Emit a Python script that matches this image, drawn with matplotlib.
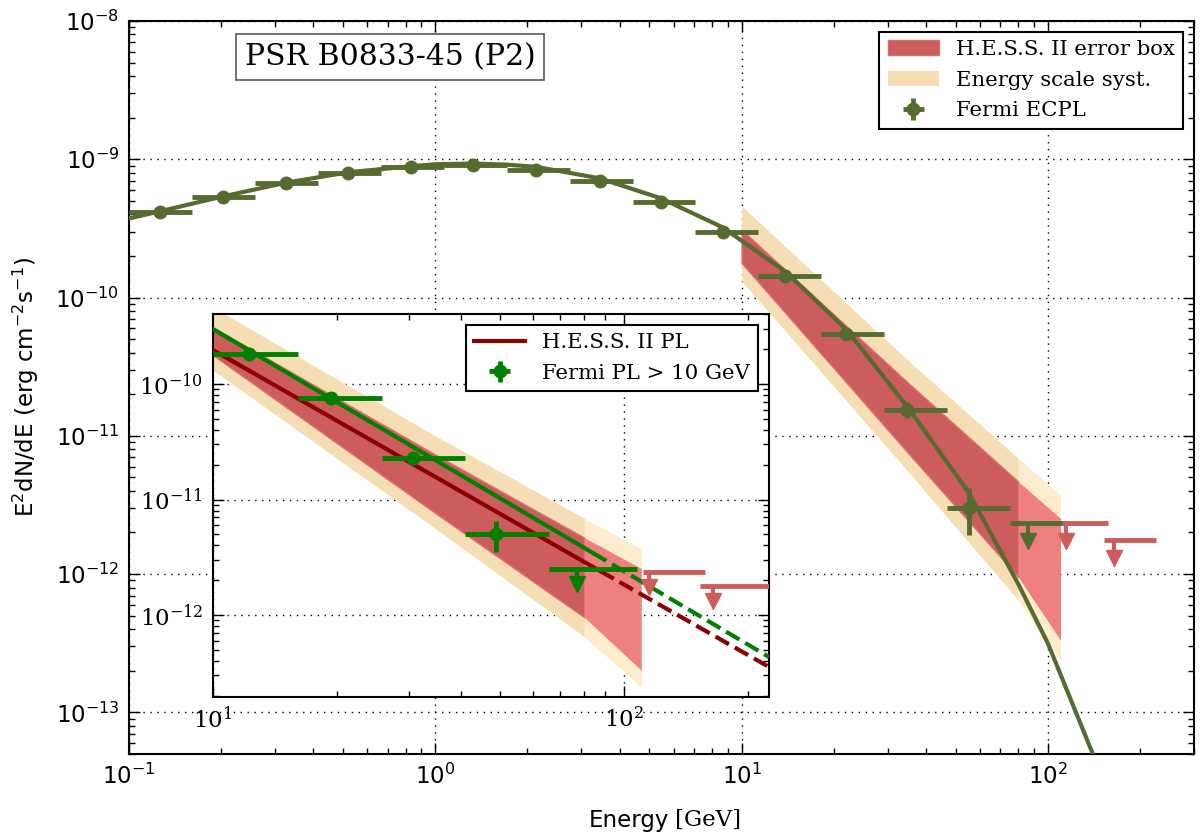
import matplotlib
matplotlib.use("Agg")
import numpy as np
import matplotlib.pyplot as plt
from matplotlib.ticker import LogLocator, NullFormatter

plt.rcParams.update({
    "font.family": "DejaVu Sans",
    "mathtext.default": "regular",
    "axes.unicode_minus": False,
    "axes.linewidth": 1.5,
})

OLIVE = "#556B2F"
GREEN = "#008000"
DARKRED = "#8B0000"
RED = "#CD5C5C"
RED_LIGHT = "#F08080"
TAN = "#F5DEB3"
TAN_LIGHT = "#FFEBCD"
SERIF = "DejaVu Serif"

# ---- Fermi-LAT ECPL points (main panel) ----
fermi_e = [0.126, 0.203, 0.325, 0.520, 0.832, 1.33, 2.14, 3.44, 5.45, 8.67,
           13.9, 22.0, 34.8, 55.1]
fermi_flux = [4.13e-10, 5.31e-10, 6.70e-10, 7.92e-10, 8.75e-10, 9.05e-10,
              8.32e-10, 6.93e-10, 4.88e-10, 2.96e-10, 1.44e-10, 5.48e-11,
              1.54e-11, 3.01e-12]
fermi_edges = [0.100, 0.1605, 0.2576, 0.4135, 0.6637, 1.065, 1.710, 2.745,
               4.406, 7.072, 11.35, 18.22, 29.24, 46.94, 75.34]
fermi_err_lo = [8e-12, 9e-12, 1e-11, 1.1e-11, 1.2e-11, 1.2e-11, 1.2e-11,
                1.1e-11, 9e-12, 7e-12, 5e-12, 3e-12, 2.0e-12, 1.08e-12]
fermi_err_hi = [8e-12, 9e-12, 1e-11, 1.1e-11, 1.2e-11, 1.2e-11, 1.2e-11,
                1.1e-11, 9e-12, 7e-12, 5e-12, 3e-12, 2.3e-12, 1.19e-12]
fermi_ul_e = [86.3]
fermi_ul_lo = [75.34]
fermi_ul_hi = [120.9]
fermi_ul_flux = [2.34e-12]

# ECPL model curve, sampled off the figure
ecpl_e = [0.1, 0.126, 0.203, 0.325, 0.52, 0.832, 1.0, 1.33, 1.7, 2.14, 3.44,
          5.45, 8.67, 13.9, 22.0, 34.8, 55.1, 80, 100, 140, 150]
ecpl_flux = [3.73e-10, 4.20e-10, 5.39e-10, 6.76e-10, 8.05e-10, 8.90e-10,
             9.20e-10, 9.30e-10, 9.15e-10, 8.80e-10, 7.28e-10, 5.22e-10,
             3.22e-10, 1.54e-10, 5.86e-11, 1.62e-11, 3.9e-12, 8.5e-13,
             3.16e-13, 5.05e-14, 3.6e-14]

# ---- H.E.S.S. II butterflies ----
hess_e = [10, 35, 80]
hess_lo = [1.78e-10, 7.5e-12, 9.56e-13]
hess_hi = [3.1e-10, 2.41e-11, 4.67e-12]
hess_ext_e = [80, 110]
hess_ext_lo = [9.56e-13, 3.33e-13]
hess_ext_hi = [4.67e-12, 2.53e-12]

tan_e = [10, 35, 80]
tan_lo = [1.32e-10, 5.5e-12, 6.49e-13]
tan_hi = [4.6e-10, 3.5e-11, 6.89e-12]
tan_ext_e = [80, 110]
tan_ext_lo = [6.49e-13, 2.38e-13]
tan_ext_hi = [6.89e-12, 3.73e-12]

# H.E.S.S. II upper limits
hess_ul_e = [114.8, 164.0]
hess_ul_lo = [111.0, 153.0]
hess_ul_hi = [157.0, 226.0]
hess_ul_flux = [2.34e-12, 1.77e-12]

# ---- inset: power laws above 10 GeV ----
pl_fermi_e = [12.2, 19.4, 30.7, 48.9]
pl_fermi_flux = [1.82e-10, 7.56e-11, 2.29e-11, 5.02e-12]
pl_fermi_edges = [10.0, 16.1, 25.7, 41.0, 65.8]
pl_fermi_err_lo = [5e-12, 3e-12, 1.5e-12, 1.5e-12]
pl_fermi_err_hi = [5e-12, 3e-12, 1.5e-12, 1.5e-12]
pl_fermi_ul_e = [76.9]
pl_fermi_ul_lo = [65.8]
pl_fermi_ul_hi = [107.7]
pl_fermi_ul_flux = [2.50e-12]

pl_fermi_line_e = [10, 84, 225]
pl_fermi_line_f = [2.99e-10, 3.44e-12, 4.33e-13]
pl_hess_line_e = [10, 87.5, 225]
pl_hess_line_f = [1.97e-10, 2.40e-12, 3.55e-13]

UL_DROP = 0.74


def style_axes(ax, font=None):
    ax.set_xscale("log")
    ax.set_yscale("log")
    ax.tick_params(which="both", direction="in", top=True, right=True)
    ax.tick_params(which="major", length=8, width=1, labelsize=16.5, pad=7)
    ax.tick_params(which="minor", length=4, width=1)
    ax.yaxis.set_minor_locator(LogLocator(base=10, subs=np.arange(2, 10), numticks=20))
    ax.yaxis.set_minor_formatter(NullFormatter())
    ax.xaxis.set_minor_formatter(NullFormatter())
    ax.grid(True, which="major", color="k", ls=(0, (1, 4)), lw=1.0)
    ax.set_axisbelow(True)
    if font:
        for lab in ax.get_xticklabels() + ax.get_yticklabels():
            lab.set_fontfamily(font)


def upper_limits(ax, e, e_lo, e_hi, flux, color, zorder):
    e = np.asarray(e)
    flux = np.asarray(flux)
    ax.errorbar(e, flux, xerr=[e - np.asarray(e_lo), np.asarray(e_hi) - e],
                fmt="none", ecolor=color, elinewidth=3.5, capsize=0, zorder=zorder)
    tip = flux * UL_DROP
    ax.vlines(e, tip, flux, color=color, lw=3, zorder=zorder)
    ax.plot(e, tip, "v", color=color, ms=12, zorder=zorder)


def draw_hess(ax):
    tan_patch = ax.fill_between(tan_e, tan_lo, tan_hi, color=TAN, lw=0, zorder=1)
    ax.fill_between(tan_ext_e, tan_ext_lo, tan_ext_hi, color=TAN_LIGHT, lw=0, zorder=1)
    red_patch = ax.fill_between(hess_e, hess_lo, hess_hi, facecolor=RED,
                                edgecolor="#D97070", lw=1, zorder=2)
    ax.fill_between(hess_ext_e, hess_ext_lo, hess_ext_hi, color=RED_LIGHT, lw=0, zorder=2)
    return red_patch, tan_patch


def point_errorbar(ax, e, flux, edges, lo, hi, color, zorder):
    e = np.asarray(e)
    edges = np.asarray(edges)
    return ax.errorbar(e, flux, xerr=[e - edges[:-1], edges[1:] - e], yerr=[lo, hi],
                       fmt="o", color=color, ms=9, elinewidth=3.5, capsize=0,
                       zorder=zorder)


fig = plt.figure(figsize=(12, 8.38), dpi=100)
ax = fig.add_axes([0.1075, 0.1002, 0.8875, 0.8748])

red_patch, tan_patch = draw_hess(ax)
ax.plot(ecpl_e, ecpl_flux, color=OLIVE, lw=3, zorder=4)
fermi_h = point_errorbar(ax, fermi_e, fermi_flux, fermi_edges, fermi_err_lo,
                         fermi_err_hi, OLIVE, 5)
upper_limits(ax, fermi_ul_e, fermi_ul_lo, fermi_ul_hi, fermi_ul_flux, OLIVE, 5)
upper_limits(ax, hess_ul_e, hess_ul_lo, hess_ul_hi, hess_ul_flux, RED, 6)

ax.set_xlim(0.1, 300)
ax.set_ylim(5e-14, 1e-8)
style_axes(ax)
ax.set_ylabel(r"E$^2$dN/dE (erg cm$^{-2}$s$^{-1}$)", fontsize=16.5, labelpad=10)

# x label: sans "Energy" followed by a serif unit
label_y = 1 - 820 / 838
fig.text(669 / 1200, label_y, "Energy", ha="right", va="center", fontsize=16.5)
fig.text(675 / 1200, label_y, "[GeV]", ha="left", va="center", fontsize=16.5,
         family=SERIF)

ax.text(0.245, 0.951, "PSR B0833-45 (P2)", transform=ax.transAxes,
        ha="center", va="center", fontsize=21.5, family=SERIF, zorder=10,
        bbox=dict(boxstyle="square,pad=0.3", fc="white", ec="0.35", lw=1.2))

leg = ax.legend([red_patch, tan_patch, fermi_h],
                ["H.E.S.S. II error box", "Energy scale syst.", "Fermi ECPL"],
                loc="upper right", prop={"family": SERIF, "size": 15.3},
                fancybox=False, edgecolor="k", framealpha=1, handlelength=2.4,
                labelspacing=0.55)
leg.get_frame().set_linewidth(1.5)
leg.set_zorder(10)

# inset
axin = fig.add_axes([213 / 1200, 1 - 697 / 838, 556 / 1200, 383 / 838])
draw_hess(axin)
hess_line, = axin.plot(pl_hess_line_e[:2], pl_hess_line_f[:2], color=DARKRED, lw=3, zorder=4)
axin.plot(pl_hess_line_e[1:], pl_hess_line_f[1:], color=DARKRED, lw=3, ls="--", zorder=4)
axin.plot(pl_fermi_line_e[:2], pl_fermi_line_f[:2], color=GREEN, lw=3, zorder=4)
axin.plot(pl_fermi_line_e[1:], pl_fermi_line_f[1:], color=GREEN, lw=3, ls="--", zorder=4)
pl_h = point_errorbar(axin, pl_fermi_e, pl_fermi_flux, pl_fermi_edges,
                      pl_fermi_err_lo, pl_fermi_err_hi, GREEN, 5)
upper_limits(axin, pl_fermi_ul_e, pl_fermi_ul_lo, pl_fermi_ul_hi, pl_fermi_ul_flux, GREEN, 5)
upper_limits(axin, hess_ul_e, hess_ul_lo, hess_ul_hi, hess_ul_flux, RED, 6)

axin.set_xlim(10, 225)
axin.set_ylim(1.95e-13, 4.04e-10)
style_axes(axin, font=SERIF)

leg2 = axin.legend([hess_line, pl_h], ["H.E.S.S. II PL", "Fermi PL > 10 GeV"],
                   loc="upper right", prop={"family": SERIF, "size": 15.3},
                   fancybox=False, edgecolor="k", framealpha=1, handlelength=2.4,
                   labelspacing=0.55)
leg2.get_frame().set_linewidth(1.5)
leg2.set_zorder(10)

fig.savefig("out.png", dpi=100)
